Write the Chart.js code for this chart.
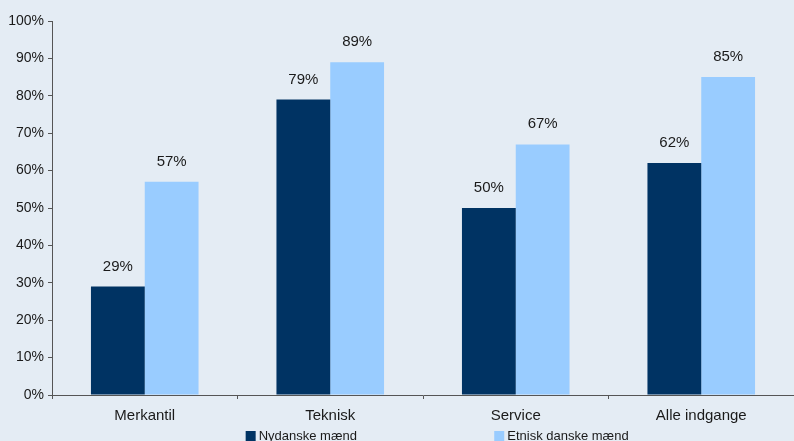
<!DOCTYPE html>
<html lang="da">
<head>
    <meta charset="UTF-8">
    <title>Andel i job</title>
    <script src="https://cdn.jsdelivr.net/npm/chart.js"></script>
    <style>
        html, body {
            margin: 0;
            padding: 0;
            background: #E4ECF4;
        }
        .chart-wrapper {
            position: relative;
            width: 794px;
            height: 441px;
        }
    </style>
</head>
<body>
<div class="chart-wrapper">
    <canvas id="myChart"></canvas>
</div>

<script>
    const categories = ["Merkantil", "Teknisk", "Service", "Alle indgange"];
    const seriesNames = ["Nydanske mænd", "Etnisk danske mænd"];
    const nydanske = [29, 79, 50, 62];
    const etniskDanske = [57, 89, 67, 85];
    const yTicks = [0, 10, 20, 30, 40, 50, 60, 70, 80, 90, 100];

    const colors = ['#003363', '#99CCFF'];
    const textColor = '#1a1a1a';
    const fontFamily = "'Liberation Sans', Arial, sans-serif";

    // labels over each bar
    const valueLabels = {
        id: 'valueLabels',
        afterDatasetsDraw(chart) {
            const ctx = chart.ctx;
            ctx.save();
            ctx.font = '15px ' + fontFamily;
            ctx.fillStyle = textColor;
            ctx.textAlign = 'center';
            ctx.textBaseline = 'alphabetic';
            chart.data.datasets.forEach((ds, i) => {
                chart.getDatasetMeta(i).data.forEach((bar, j) => {
                    ctx.fillText(ds.data[j] + '%', bar.x, bar.y - 16);
                });
            });
            ctx.restore();
        }
    };

    // legend spread out below the axis labels
    const bottomLegend = {
        id: 'bottomLegend',
        afterDraw(chart) {
            const ctx = chart.ctx;
            const area = chart.chartArea;
            const w = area.right - area.left;
            const starts = [area.left + w * 0.261, area.left + w * 0.596];
            ctx.save();
            ctx.font = '13px ' + fontFamily;
            ctx.textBaseline = 'alphabetic';
            ctx.textAlign = 'left';
            chart.data.datasets.forEach((ds, i) => {
                const x = starts[i];
                ctx.fillStyle = ds.backgroundColor;
                ctx.fillRect(x, chart.height - 10, 10, 10);
                ctx.fillStyle = textColor;
                ctx.fillText(ds.label, x + 13, chart.height - 1);
            });
            ctx.restore();
        }
    };

    const config = {
        type: 'bar',
        data: {
            labels: categories,
            datasets: [
                {
                    label: seriesNames[0],
                    data: nydanske,
                    backgroundColor: colors[0],
                    categoryPercentage: 0.58,
                    barPercentage: 1.0
                },
                {
                    label: seriesNames[1],
                    data: etniskDanske,
                    backgroundColor: colors[1],
                    categoryPercentage: 0.58,
                    barPercentage: 1.0
                }
            ]
        },
        options: {
            responsive: true,
            maintainAspectRatio: false,
            animation: false,
            layout: {
                padding: { top: 21, right: 0, left: 0, bottom: 0 }
            },
            plugins: {
                legend: { display: false },
                tooltip: { enabled: false },
                title: { display: false }
            },
            scales: {
                x: {
                    afterFit(scale) { scale.height = 46; },
                    grid: {
                        drawOnChartArea: false,
                        drawTicks: true,
                        tickLength: 4,
                        color: '#555555'
                    },
                    border: { color: '#555555', width: 1 },
                    ticks: {
                        color: textColor,
                        padding: 8,
                        font: { size: 15, family: fontFamily }
                    }
                },
                y: {
                    min: 0,
                    max: 100,
                    afterFit(scale) { scale.width = 52; },
                    afterBuildTicks(scale) {
                        scale.ticks = yTicks.map(v => ({ value: v }));
                    },
                    grid: {
                        drawOnChartArea: false,
                        drawTicks: true,
                        tickLength: 4,
                        color: '#555555'
                    },
                    border: { color: '#555555', width: 1 },
                    ticks: {
                        color: textColor,
                        padding: 4,
                        font: { size: 14, family: fontFamily },
                        callback: v => v + '%'
                    }
                }
            }
        },
        plugins: [valueLabels, bottomLegend]
    };

    const myChart = new Chart(document.getElementById('myChart'), config);
</script>
</body>
</html>
